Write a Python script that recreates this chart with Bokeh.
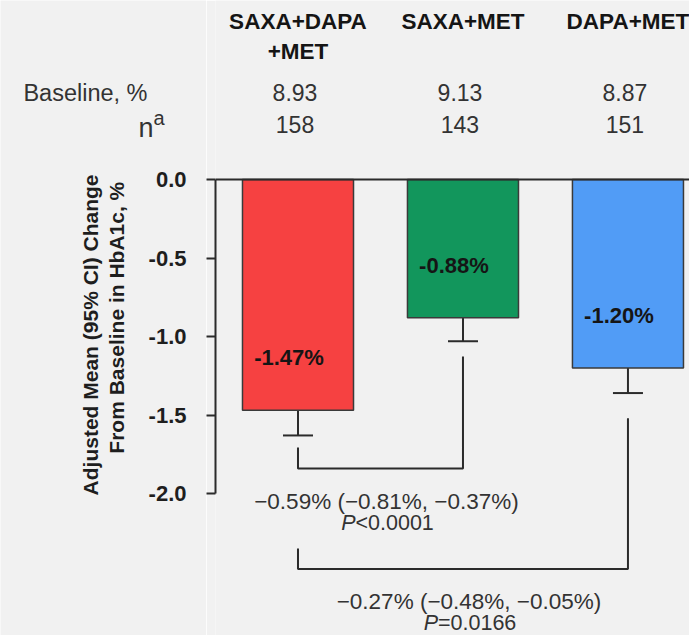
import math

from bokeh.core.properties import value
from bokeh.embed import file_html
from bokeh.layouts import row
from bokeh.models import (ColumnDataSource, CustomJSTickFormatter, FixedTicker,
                          Range1d, Span, TeeHead, Whisker)
from bokeh.plotting import figure
from bokeh.resources import INLINE

# ---- data ---------------------------------------------------------------
groups = ["SAXA+DAPA\n+MET", "SAXA+MET", "DAPA+MET"]
baseline_hba1c = [8.93, 9.13, 8.87]
n_patients = [158, 143, 151]
mean_change = [-1.47, -0.88, -1.20]
ci_lower = [-1.63, -1.03, -1.36]
ci_upper = [-1.31, -0.73, -1.04]
bar_colors = ["#F64141", "#12965C", "#519CF6"]

# pairwise comparisons: (group a, group b), difference and 95% CI, P value
comp_pairs = [(0, 1), (0, 2)]
comp_diff = [-0.59, -0.27]
comp_ci_lo = [-0.81, -0.48]
comp_ci_hi = [-0.37, -0.05]
comp_p = ["<0.0001", "=0.0166"]

y_ticks = [-2.0, -1.5, -1.0, -0.5, 0.0]

# ---- style ----------------------------------------------------------------
FONT = "Liberation Sans"
BG = "#F1F1F1"
INK = "#2B2B2B"
TEXT = "#1E1E1E"
GREY_TEXT = "#333333"
MINUS = "\u2212"
H = 635
SIDE_W = 206          # width of the text column left of the axis ticks

y_range = Range1d(-2.904, 1.140)


def base_figure(**kw):
    f = figure(height=H, output_backend="svg", toolbar_location=None,
               y_range=y_range, min_border_right=0, min_border_top=0,
               min_border_bottom=0, background_fill_color=BG,
               border_fill_color=BG, outline_line_color=None, **kw)
    f.grid.visible = False
    return f


# ---- left text column: tick labels, axis title, row titles ---------------
side = base_figure(width=SIDE_W, x_range=Range1d(0, SIDE_W),
                   x_axis_location=None, y_axis_location=None, min_border_left=0)

side.text(x=[186] * len(y_ticks), y=y_ticks, text=[f"{t:.1f}" for t in y_ticks],
          text_align="right", text_baseline="middle",
          text_font=value(FONT), text_font_style="bold", text_font_size="22px",
          text_color=TEXT)

side.text(x=[90, 116], y=[-0.99, -0.88],
          text=["Adjusted Mean (95% CI) Change", "From Baseline in HbA1c, %"],
          angle=math.pi / 2, text_align="center", text_baseline="middle",
          text_font=value(FONT), text_font_style="bold", text_font_size="21px",
          text_color=TEXT)

side.text(x=[147], y=[0.548], text=["Baseline, %"], text_align="right",
          text_baseline="middle", text_font=value(FONT), text_font_size="23.5px",
          text_color=GREY_TEXT)
side.text(x=[153], y=[0.325], text=["n"], text_align="right",
          text_baseline="alphabetic", text_font=value(FONT), text_font_size="27px",
          text_color=GREY_TEXT)
side.text(x=[153], y=[0.39], text=["a"], text_align="left",
          text_baseline="alphabetic", text_font=value(FONT), text_font_size="20px",
          text_color=GREY_TEXT)

# ---- main chart -----------------------------------------------------------
x = list(range(len(groups)))

p = base_figure(width=689 - SIDE_W, x_range=Range1d(-0.5, 2.373),
                x_axis_location=None, y_axis_location="left", min_border_left=9)

# y axis (line + ticks) only spans the plotted range of change;
# its numbers sit in the text column on the left
ax = p.yaxis[0]
ax.bounds = (-2.0, 0.0)
ax.ticker = FixedTicker(ticks=y_ticks)
ax.formatter = CustomJSTickFormatter(code="return ''")
ax.major_tick_in = 0
ax.major_tick_out = 9
ax.minor_tick_out = 0
ax.minor_tick_in = 0
ax.axis_line_width = 2
ax.axis_line_color = INK
ax.major_tick_line_width = 2
ax.major_tick_line_color = INK
ax.major_label_standoff = 0
ax.major_label_text_color = None

src = ColumnDataSource(dict(
    x=x,
    change=mean_change,
    lower=ci_lower,
    upper=ci_upper,
    color=bar_colors,
    label=[f"{v:.2f}%" for v in mean_change],
    label_y=[v + 0.335 for v in mean_change],
))

# bars hang down from zero
p.vbar(x="x", top=0, bottom="change", width=0.673, fill_color="color",
       line_color="#3A3A3A", line_width=1.5, source=src)
p.add_layout(Span(location=0, dimension="width", line_color=INK, line_width=2))

# 95% CI error bars
p.add_layout(Whisker(source=src, base="x", upper="upper", lower="lower",
                     line_color=INK, line_width=2,
                     upper_head=TeeHead(size=30, line_color=INK, line_width=2),
                     lower_head=TeeHead(size=30, line_color=INK, line_width=2)))

# value labels inside the bars
p.text(x="x", y="label_y", text="label", source=src, x_offset=-9,
       text_align="center", text_baseline="middle",
       text_font=value(FONT), text_font_style="bold", text_font_size="22px",
       text_color="#151515")

# column headers, baseline HbA1c and n
p.text(x=x, y=[1.085] * 3, text=groups, text_align="center", text_baseline="top",
       text_font=value(FONT), text_font_style="bold", text_font_size="22.5px",
       text_color="#151515", text_line_height=1.2)
p.text(x=x, y=[0.555] * 3, text=[f"{b:.2f}" for b in baseline_hba1c], x_offset=-3,
       text_align="center", text_baseline="middle",
       text_font=value(FONT), text_font_size="23px", text_color=GREY_TEXT)
p.text(x=x, y=[0.35] * 3, text=[str(n) for n in n_patients], x_offset=-3,
       text_align="center", text_baseline="middle",
       text_font=value(FONT), text_font_size="23px", text_color=GREY_TEXT)

# comparison brackets with treatment differences
bracket_start_gap = [(0.077, 0.097), (0.72, 0.16)]
bracket_level = [-1.84, -2.48]
xs, ys = [], []
for (a, b), (ga, gb), lvl in zip(comp_pairs, bracket_start_gap, bracket_level):
    xs.append([a, a, b, b])
    ys.append([ci_lower[a] - ga, lvl, lvl, ci_lower[b] - gb])
p.multi_line(xs=xs, ys=ys, line_color=INK, line_width=2)


def fmt(v):
    return f"{MINUS}{abs(v):.2f}%" if v < 0 else f"{v:.2f}%"


diff_text = [f"{fmt(d)} ({fmt(lo)}, {fmt(hi)})"
             for d, lo, hi in zip(comp_diff, comp_ci_lo, comp_ci_hi)]
mid_x = [(a + b) / 2 for a, b in comp_pairs]
p.text(x=mid_x, y=[lvl - 0.21 for lvl in bracket_level], text=diff_text, x_offset=6,
       text_align="center", text_baseline="middle",
       text_font=value(FONT), text_font_size="22.5px", text_color=GREY_TEXT)
# "P" in italics followed by the value
p_y = [lvl - 0.347 for lvl in bracket_level]
p.text(x=mid_x, y=p_y, text=["P"] * len(comp_p), x_offset=-25,
       text_align="right", text_baseline="middle",
       text_font=value(FONT), text_font_style="italic", text_font_size="21.5px",
       text_color=GREY_TEXT)
p.text(x=mid_x, y=p_y, text=comp_p, x_offset=-25,
       text_align="left", text_baseline="middle",
       text_font=value(FONT), text_font_size="21.5px", text_color=GREY_TEXT)

layout = row(side, p, spacing=0)
open("out.html", "w").write(file_html(layout, INLINE))
